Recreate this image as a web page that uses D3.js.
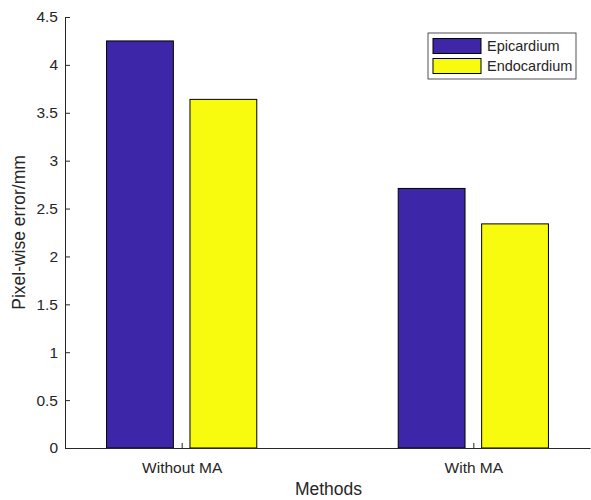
<!DOCTYPE html>
<html>
<head>
<meta charset="utf-8">
<script src="https://cdn.jsdelivr.net/npm/d3@7"></script>
<style>
  body { margin: 0; background: #fff; }
  svg text { font-family: "Liberation Sans", Arial, sans-serif; fill: #262626; }
</style>
</head>
<body>
<svg id="chart"></svg>
<script>
// values
const categories = ["Without MA", "With MA"];
const seriesNames = ["Epicardium", "Endocardium"];
const epicardium = [4.25, 2.71];
const endocardium = [3.64, 2.34];
const yTicks = [0, 0.5, 1, 1.5, 2, 2.5, 3, 3.5, 4, 4.5];

const width = 591, height = 500;
const colors = ["#3e26a8", "#f9fb0e"];

const svg = d3.select("#chart").attr("width", width).attr("height", height);

// MATLAB-like axes: categories at 1 and 2
const x = d3.scaleLinear().domain([0.6, 2.4]).range([65, 590]);
const y = d3.scaleLinear().domain([0, 4.5]).range([448, 17]);

const barW = 0.229, offset = 0.143;
const series = [epicardium, endocardium];

series.forEach((vals, s) => {
    svg.append("g")
        .selectAll("rect")
        .data(vals)
        .enter()
        .append("rect")
        .attr("x", (d, i) => x(i + 1 + (s === 0 ? -offset : offset) - barW / 2))
        .attr("width", x(barW) - x(0))
        .attr("y", d => y(d))
        .attr("height", d => y(0) - y(d))
        .attr("fill", colors[s])
        .attr("stroke", "#000")
        .attr("stroke-width", 1);
});

// y axis, ticks pointing inward
const yAxis = svg.append("g")
    .attr("transform", `translate(${x.range()[0]},0)`)
    .call(d3.axisRight(y).tickValues(yTicks).tickFormat(d3.format("")).tickSize(5).tickSizeOuter(0));
yAxis.select(".domain").attr("stroke", "#262626");
yAxis.selectAll(".tick line").attr("stroke", "#262626");
yAxis.selectAll(".tick text")
    .attr("x", -7)
    .attr("text-anchor", "end")
    .style("font-size", "15.5px");

// x axis, ticks pointing up
const xAxis = svg.append("g")
    .attr("transform", `translate(0,${y(0)})`)
    .call(d3.axisTop(x).tickValues([1, 2]).tickFormat((d, i) => categories[i]).tickSize(5).tickSizeOuter(0));
xAxis.select(".domain").attr("stroke", "#262626");
xAxis.selectAll(".tick line").attr("stroke", "#262626");
xAxis.selectAll(".tick text")
    .attr("y", 25)
    .attr("dy", 0)
    .style("font-size", "15.5px");

// axis titles
svg.append("text")
    .attr("x", (x.range()[0] + x.range()[1]) / 2 + 1)
    .attr("y", 495)
    .attr("text-anchor", "middle")
    .style("font-size", "17.5px")
    .text("Methods");

svg.append("text")
    .attr("transform", `translate(25,${(y(0) + y(4.5)) / 2}) rotate(-90)`)
    .attr("text-anchor", "middle")
    .style("font-size", "17.5px")
    .text("Pixel-wise error/mm");

// legend
const legend = svg.append("g").attr("transform", "translate(428,33)");
legend.append("rect")
    .attr("width", 148).attr("height", 46)
    .attr("fill", "#fff").attr("stroke", "#262626").attr("stroke-width", 0.8);
seriesNames.forEach((name, i) => {
    legend.append("rect")
        .attr("x", 5).attr("y", 5.5 + i * 20)
        .attr("width", 48).attr("height", 15)
        .attr("fill", colors[i]).attr("stroke", "#000");
    legend.append("text")
        .attr("x", 59).attr("y", 13 + i * 20)
        .attr("dy", "0.35em")
        .style("font-size", "14.5px")
        .text(name);
});
</script>
</body>
</html>
